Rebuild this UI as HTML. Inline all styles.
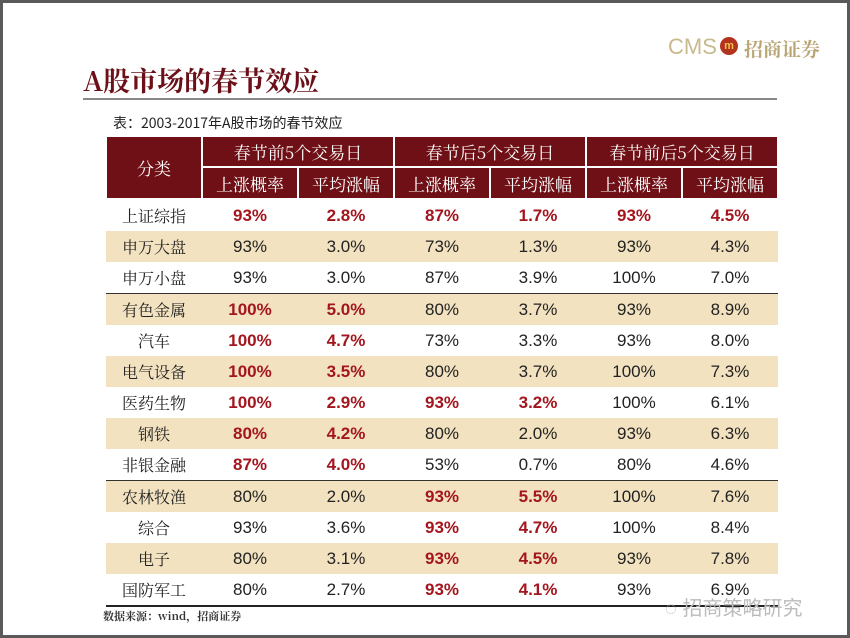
<!DOCTYPE html>
<html><head><meta charset="utf-8"><style>
body{margin:0;width:850px;height:638px;background:#fff;position:relative;overflow:hidden;font-family:"Liberation Sans","Noto Sans CJK SC",sans-serif}
.frame{position:absolute;left:0;top:0;width:844px;height:632px;border:3px solid #5a5a5a}
.t{position:absolute;white-space:nowrap}
table{position:absolute;left:105px;top:135px;border-collapse:collapse;table-layout:fixed}
td{text-align:center;padding:0;font-size:17px;height:31px;color:#222}
th{background:#6e1016;color:#fff;font-weight:normal;font-family:"Noto Serif CJK SC",serif;font-size:17px;border:2px solid #fff}
.b td{background:#f2e2c0}
td.n{font-family:"Noto Serif CJK SC",serif;font-size:16px}
.r{color:#a4161e;font-weight:bold}
tr.sep td{border-top:1.5px solid #333}
</style></head><body>
<div class="frame"></div>
<div class="t" style="left:668px;top:34px;font-size:22px;color:#c9b98e">CMS</div>
<div class="t" style="left:720px;top:37px;width:18px;height:18px;border-radius:50%;background:#b3341e;color:#f3c04a;font-size:11px;text-align:center;line-height:18px;font-weight:bold">m</div>
<div class="t" style="left:744px;top:35px;font-size:19px;color:#b9a675;font-family:'Noto Serif CJK SC',serif;font-weight:bold">招商证券</div>
<div class="t" style="left:83px;top:60px;font-size:27px;color:#6b1018;font-family:'Noto Serif CJK SC',serif;font-weight:bold">A股市场的春节效应</div>
<div style="position:absolute;left:83px;top:98px;width:694px;height:2px;background:#888"></div>
<div class="t" style="left:113px;top:113px;font-size:14px;color:#222;font-family:'Noto Sans CJK SC',sans-serif">表：2003-2017年A股市场的春节效应</div>
<table>
<colgroup><col style="width:96px"><col style="width:96px"><col style="width:96px"><col style="width:96px"><col style="width:96px"><col style="width:96px"><col style="width:96px"></colgroup>
<tr style="height:31px"><th rowspan="2">分类</th><th colspan="2">春节前5个交易日</th><th colspan="2">春节后5个交易日</th><th colspan="2">春节前后5个交易日</th></tr>
<tr style="height:32px"><th>上涨概率</th><th>平均涨幅</th><th>上涨概率</th><th>平均涨幅</th><th>上涨概率</th><th>平均涨幅</th></tr>
<tr><td class="n">上证综指</td><td class="r">93%</td><td class="r">2.8%</td><td class="r">87%</td><td class="r">1.7%</td><td class="r">93%</td><td class="r">4.5%</td></tr>
<tr class="b"><td class="n">申万大盘</td><td>93%</td><td>3.0%</td><td>73%</td><td>1.3%</td><td>93%</td><td>4.3%</td></tr>
<tr><td class="n">申万小盘</td><td>93%</td><td>3.0%</td><td>87%</td><td>3.9%</td><td>100%</td><td>7.0%</td></tr>
<tr class="b sep"><td class="n">有色金属</td><td class="r">100%</td><td class="r">5.0%</td><td>80%</td><td>3.7%</td><td>93%</td><td>8.9%</td></tr>
<tr><td class="n">汽车</td><td class="r">100%</td><td class="r">4.7%</td><td>73%</td><td>3.3%</td><td>93%</td><td>8.0%</td></tr>
<tr class="b"><td class="n">电气设备</td><td class="r">100%</td><td class="r">3.5%</td><td>80%</td><td>3.7%</td><td>100%</td><td>7.3%</td></tr>
<tr><td class="n">医药生物</td><td class="r">100%</td><td class="r">2.9%</td><td class="r">93%</td><td class="r">3.2%</td><td>100%</td><td>6.1%</td></tr>
<tr class="b"><td class="n">钢铁</td><td class="r">80%</td><td class="r">4.2%</td><td>80%</td><td>2.0%</td><td>93%</td><td>6.3%</td></tr>
<tr><td class="n">非银金融</td><td class="r">87%</td><td class="r">4.0%</td><td>53%</td><td>0.7%</td><td>80%</td><td>4.6%</td></tr>
<tr class="b sep"><td class="n">农林牧渔</td><td>80%</td><td>2.0%</td><td class="r">93%</td><td class="r">5.5%</td><td>100%</td><td>7.6%</td></tr>
<tr><td class="n">综合</td><td>93%</td><td>3.6%</td><td class="r">93%</td><td class="r">4.7%</td><td>100%</td><td>8.4%</td></tr>
<tr class="b"><td class="n">电子</td><td>80%</td><td>3.1%</td><td class="r">93%</td><td class="r">4.5%</td><td>93%</td><td>7.8%</td></tr>
<tr style="border-bottom:2px solid #222"><td class="n">国防军工</td><td>80%</td><td>2.7%</td><td class="r">93%</td><td class="r">4.1%</td><td>93%</td><td>6.9%</td></tr>
</table>
<div class="t" style="left:103px;top:608px;font-size:11px;font-weight:bold;color:#333;font-family:'Noto Serif CJK SC',serif">数据来源：wind，招商证券</div>
<div class="t" style="left:665px;top:592px;font-size:20px;color:#bbb">◌ 招商策略研究</div>
</body></html>
